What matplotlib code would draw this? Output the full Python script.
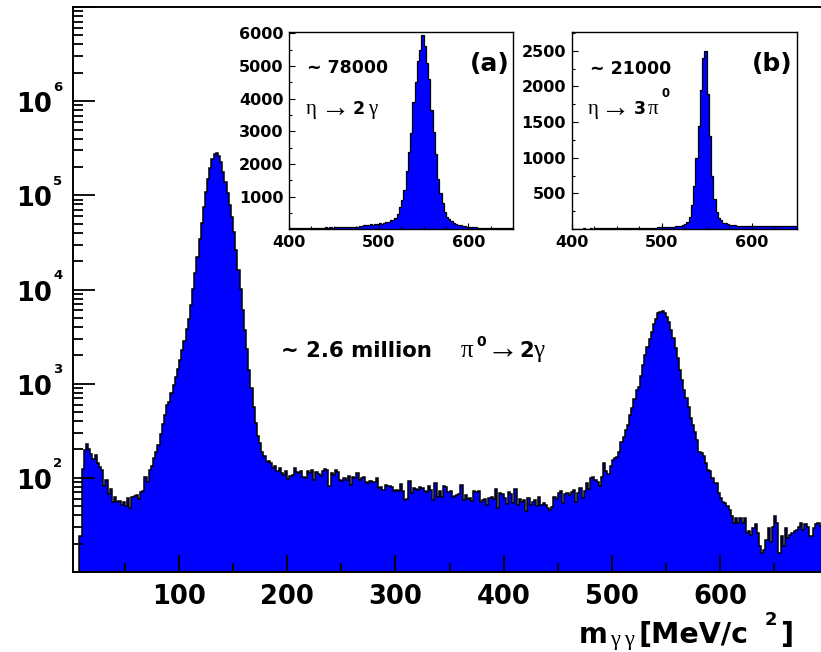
import numpy as np
import matplotlib
matplotlib.use('Agg')
import matplotlib.pyplot as plt
from matplotlib.ticker import MultipleLocator, LogLocator, NullFormatter, FixedLocator

W, H = 821, 652
BLUE = '#0000ff'

# ---------------- data ----------------
# main histogram: m_gg, 2 MeV bins from 0 to 700 MeV
main_edges = np.arange(0, 702, 2)
main_counts = [
    0, 0, 0, 0, 24, 124, 198, 230, 202, 180,
    158, 175, 143, 130, 120, 82, 95, 68, 76, 55,
    63, 56, 57, 52, 56, 50, 61, 48, 63, 64,
    65, 60, 71, 72, 103, 91, 120, 132, 162, 190,
    224, 291, 374, 467, 596, 646, 793, 971, 1189, 1425,
    1789, 2285, 2870, 3790, 4880, 6870, 10070, 14900, 22300, 34200,
    50600, 75900, 109000, 148000, 194000, 242000, 273000, 284000, 262000, 228000,
    179000, 140000, 105000, 79000, 58500, 41200, 26300, 16100, 10100, 6070,
    3720, 2320, 1400, 896, 571, 381, 275, 234, 186, 171,
    149, 150, 143, 127, 132, 117, 127, 112, 108, 119,
    97, 105, 108, 127, 115, 112, 118, 102, 99, 117,
    113, 120, 95, 115, 111, 105, 117, 124, 120, 81,
    112, 108, 120, 116, 95, 92, 99, 96, 105, 84,
    103, 100, 112, 94, 99, 102, 91, 88, 93, 90,
    91, 99, 78, 80, 75, 84, 82, 81, 79, 72,
    75, 73, 86, 73, 58, 60, 93, 69, 78, 76,
    74, 80, 78, 73, 71, 82, 75, 58, 88, 63,
    72, 63, 81, 79, 70, 72, 62, 64, 66, 68,
    84, 58, 66, 59, 61, 57, 73, 70, 72, 56,
    58, 60, 52, 61, 63, 59, 76, 48, 69, 68,
    61, 53, 70, 68, 54, 76, 52, 59, 56, 58,
    44, 61, 52, 56, 58, 50, 63, 52, 54, 51,
    48, 46, 49, 62, 60, 69, 72, 54, 68, 69,
    66, 70, 75, 55, 69, 78, 61, 72, 88, 76,
    99, 102, 95, 90, 81, 103, 143, 117, 110, 132,
    153, 162, 168, 190, 243, 270, 323, 365, 466, 549,
    684, 859, 933, 1210, 1584, 2022, 2478, 2966, 3575, 4315,
    4838, 5600, 5780, 5930, 5600, 5160, 4570, 3725, 3040, 2382,
    1864, 1402, 1097, 859, 701, 571, 430, 365, 310, 253,
    186, 183, 171, 143, 122, 117, 99, 89, 88, 69,
    61, 55, 54, 50, 46, 39, 33, 37, 33, 37,
    33, 37, 26, 27, 25, 29, 32, 26, 19, 16,
    17, 22, 29, 21, 30, 39, 33, 16, 24, 19,
    29, 23, 25, 26, 27, 28, 30, 33, 28, 32,
    30, 24, 24, 29, 32, 33, 31, 28, 30, 33,
]

# inset (a): eta -> 2 gamma, 2.5 MeV bins 400-650
inset_edges = np.arange(400, 652.5, 2.5)
eta2g_counts = [
    45, 50, 44, 48, 52, 46, 50, 53,
    48, 55, 50, 56, 52, 58, 55, 54, 60, 57, 62, 58,
    65, 60, 68, 72, 66, 75, 72, 78, 82, 76, 86, 92,
    102, 133, 128, 138, 153, 148, 155, 160,
    184, 178, 190, 235, 240, 286, 290, 357,
    480, 694, 898, 1200, 1800, 2377, 2938, 3900,
    4519, 5150, 5488, 5950, 5600, 5100, 4600, 3650,
    2990, 2300, 1550, 1100, 800, 520, 390, 316,
    250, 200, 165, 140, 120, 105, 90, 80,
    72, 68, 62, 60, 55, 58, 50, 52, 48, 45,
    47, 42, 44, 40, 38, 41, 36, 38, 35, 34,
]
# inset (b): eta -> 3 pi0, 2.5 MeV bins 400-650
eta3pi_counts = [
    5, 6, 5, 7, 6, 8, 6, 7, 8, 7, 8, 9, 8, 10, 9, 10, 11, 10, 12, 11,
    12, 13, 14, 13, 15, 14, 16, 15, 17, 16, 18, 17, 19, 18, 20, 19, 21, 20, 22, 23,
    24, 25, 26, 28, 30, 33, 36, 40,
    47, 58, 75, 100, 170, 330, 600, 1000,
    1450, 1950, 2400, 2500, 1900, 1300, 750, 420,
    240, 160, 120, 90, 80, 68, 60, 55,
    50, 48, 46, 45, 44, 43, 42, 44,
    41, 43, 40, 42, 39, 41, 40, 42, 38, 40, 41, 39, 40, 42, 38, 40, 39, 41, 40, 42,
]

main_x_ticks = [100, 200, 300, 400, 500, 600]
main_y_exps = [2, 3, 4, 5, 6]
inset_x_ticks = [400, 500, 600]
eta2g_y_ticks = [1000, 2000, 3000, 4000, 5000, 6000]
eta3pi_y_ticks = [500, 1000, 1500, 2000, 2500]

# ---------------- figure ----------------
plt.rcParams['font.family'] = ['DejaVu Sans']
plt.rcParams['font.weight'] = 'bold'
fig = plt.figure(figsize=(W / 100, H / 100), dpi=100)
GREEK = ['Liberation Serif', 'DejaVu Serif']


def box(x0, y0, x1, y1):
    return [x0 / W, 1 - y1 / H, (x1 - x0) / W, (y1 - y0) / H]


def ptext(x, y, s, size, weight='bold', family=None, ha='left', va='baseline', **extra):
    kw = dict(fontsize=size, fontweight=weight, ha=ha, va=va)
    if family is not None:
        kw['family'] = family
    kw.update(extra)
    fig.text(x / W, 1 - y / H, s, **kw)


def arrow(x, y, size):
    ptext(x, y, '\u2192', size, weight='normal', family=GREEK)


# main axes
ax = fig.add_axes(box(73, 7, 828.2, 572))
ax.set_yscale('log')
ax.stairs(main_counts, main_edges, fill=True, color=BLUE, baseline=1, lw=0)
ax.stairs(main_counts, main_edges, color='black', lw=1.1, baseline=1)
ax.set_xlim(2, 700)
ax.set_ylim(10, 1e7)
for s in ax.spines.values():
    s.set_linewidth(1.4)
ax.spines['right'].set_visible(False)

ax.xaxis.set_major_locator(FixedLocator(main_x_ticks))
ax.xaxis.set_minor_locator(MultipleLocator(50))
ax.yaxis.set_major_locator(LogLocator(base=10, numticks=20))
ax.yaxis.set_minor_locator(LogLocator(base=10, subs=np.arange(2, 10), numticks=20))
ax.yaxis.set_major_formatter(NullFormatter())
ax.yaxis.set_minor_formatter(NullFormatter())
ax.tick_params(axis='x', which='major', direction='in', length=12.5, width=1.3,
               labelsize=18.5, pad=9)
ax.tick_params(axis='x', which='minor', direction='in', length=6.5, width=1.3)
ax.tick_params(axis='y', which='major', direction='in', length=16, width=1.3)
ax.tick_params(axis='y', which='minor', direction='in', length=7.5, width=1.3)
ax.tick_params(top=False, right=False, which='both')

for e in main_y_exps:
    ax.annotate('10', xy=(0, 10.0 ** e), xycoords=('axes fraction', 'data'),
                xytext=(-21, -4), textcoords='offset pixels', ha='right', va='center',
                fontsize=18.5, fontweight='bold')
    ax.annotate(str(e), xy=(0, 10.0 ** e), xycoords=('axes fraction', 'data'),
                xytext=(-20, 14), textcoords='offset pixels', ha='left', va='center',
                fontsize=9.5, fontweight='bold')

# main annotation
ptext(281, 357, '~ 2.6 million', 15.3)
ptext(461, 357, '\u03c0', 18, weight='normal', family=GREEK)
ptext(476, 346, '0', 10)
arrow(486, 358, 23)
ptext(519, 357, '2', 15.3)
ptext(533, 357, '\u03b3', 18, weight='normal', family=GREEK)

# x-axis title
ptext(579, 643, 'm', 20)
ptext(610, 645, '\u03b3', 16, weight='normal', family=GREEK)
ptext(624, 645, '\u03b3', 16, weight='normal', family=GREEK)
ptext(638, 643, '[MeV/c', 20.5)
ptext(765, 625, '2', 13)
ptext(780, 643, ']', 20.5)


def inset(rect, counts, ylim, yticks, yminor):
    a = fig.add_axes(box(*rect))
    a.set_facecolor('white')
    a.stairs(counts, inset_edges, fill=True, color=BLUE, lw=0)
    a.stairs(counts, inset_edges, color='black', lw=0.9)
    a.set_xlim(400, 650)
    a.set_ylim(0, ylim)
    for s in a.spines.values():
        s.set_linewidth(1.0)
    a.xaxis.set_major_locator(FixedLocator(inset_x_ticks))
    a.xaxis.set_minor_locator(MultipleLocator(25))
    a.yaxis.set_major_locator(FixedLocator(yticks))
    a.yaxis.set_minor_locator(MultipleLocator(yminor))
    a.tick_params(which='major', direction='in', length=4.5, width=0.8,
                  labelsize=11.5, pad=4)
    a.tick_params(which='minor', direction='in', length=2.5, width=0.8)
    a.tick_params(top=False, right=False, which='both')
    return a


axa = inset((289, 32.3, 513.3, 229.4), eta2g_counts, 6030, eta2g_y_ticks, 500)
axb = inset((571.7, 32.3, 796.7, 229.0), eta3pi_counts, 2760, eta3pi_y_ticks, 250)

# inset texts
ptext(307, 73, '~ 78000', 12.5)
ptext(470, 64, '(a)', 18, va='center')
ptext(306, 114, '\u03b7', 15, weight='normal', family=GREEK)
arrow(321, 116, 21)
ptext(353, 114, '2', 12.5)
ptext(368, 114, '\u03b3', 15, weight='normal', family=GREEK)

ptext(590, 74, '~ 21000', 12.5)
ptext(752, 64, '(b)', 18, va='center')
ptext(588, 114, '\u03b7', 15, weight='normal', family=GREEK)
arrow(601, 116, 21)
ptext(634, 114, '3', 12.5)
ptext(648, 114, '\u03c0', 15, weight='normal', family=GREEK)
ptext(661, 97, '0', 8.5)

fig.savefig('out.png', dpi=100)
